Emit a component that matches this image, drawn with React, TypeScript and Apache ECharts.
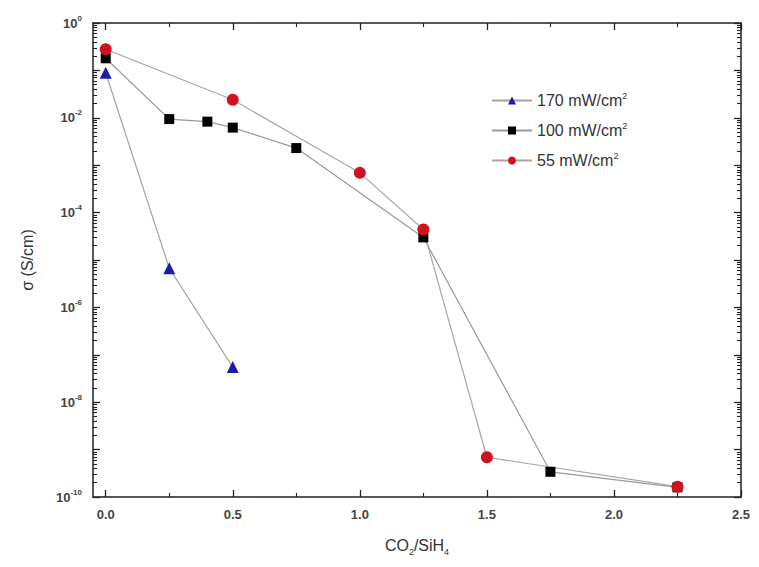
import React, { useEffect, useRef } from "react";
import * as echarts from "echarts";

const seriesNames = ["170 mW/cm2", "100 mW/cm2", "55 mW/cm2"];
const legendLabels = ["170 mW/cm{s|2}", "100 mW/cm{s|2}", "55 mW/cm{s|2}"];

const x170 = [0, 0.25, 0.5];
const y170 = [0.089, 6.7e-6, 5.5e-8];

const x100 = [0, 0.25, 0.4, 0.5, 0.75, 1.25, 1.75, 2.25];
const y100 = [0.18, 9.4e-3, 8.3e-3, 6.2e-3, 2.3e-3, 3.0e-5, 3.4e-10, 1.6e-10];

const x55 = [0, 0.5, 1.0, 1.25, 1.5, 2.25];
const y55 = [0.28, 0.024, 6.9e-4, 4.4e-5, 6.9e-10, 1.65e-10];

const xMajor = [0, 0.5, 1.0, 1.5, 2.0, 2.5];
const xMinor = [0.25, 0.75, 1.25, 1.75, 2.25];
const yLabelExps = [0, -2, -4, -6, -8, -10];
const yMajorExps = [0, -1, -2, -3, -4, -5, -6, -7, -8, -9, -10];

const yMajor = yMajorExps.map((e) => Math.pow(10, e));
const yLabels = yLabelExps.map((e) => Math.pow(10, e));
const yMinor: number[] = [];
for (let e = -10; e < 0; e++) {
  for (let k = 2; k <= 9; k++) yMinor.push(k * Math.pow(10, e));
}

const pair = (xs: number[], ys: number[]) => xs.map((x, i) => [x, ys[i]]);

export default function App() {
  const ref = useRef<HTMLDivElement>(null);
  useEffect(() => {
    document.body.style.margin = "0";
    const chart = echarts.init(ref.current!, null, { renderer: "svg" });
    const font = "Liberation Sans, Arial, sans-serif";
    const axisColor = "#222";
    const gridBox = { left: 93, right: 18, top: 23, bottom: 70, containLabel: false };
    const xBase = (pos: "bottom" | "top", grid: number) => ({
      type: "value" as const,
      gridIndex: grid,
      position: pos,
      min: -0.05,
      max: 2.5,
      splitLine: { show: false },
    });
    const yBase = (pos: "left" | "right", grid: number) => ({
      type: "log" as const,
      gridIndex: grid,
      logBase: 10,
      position: pos,
      min: 1e-10,
      max: 1,
      splitLine: { show: false },
      minorTick: { show: false },
    });
    const majorTick = (vals: number[]) => ({
      show: true,
      inside: true,
      length: 7,
      customValues: vals,
      lineStyle: { color: axisColor, width: 1.3 },
    });
    const minorTickStyle = (vals: number[]) => ({
      show: true,
      inside: true,
      length: 4,
      customValues: vals,
      lineStyle: { color: axisColor, width: 1.1 },
    });
    const frameLine = { show: true, onZero: false, lineStyle: { color: axisColor, width: 1.5 } };
    const noLine = { show: false, onZero: false };
    const option: any = {
      animation: false,
      backgroundColor: "#ffffff",
      grid: [gridBox, { ...gridBox }],
      legend: {
        orient: "vertical",
        left: 486,
        top: 86,
        itemWidth: 40,
        itemHeight: 10,
        itemGap: 11,
        data: seriesNames,
        formatter: (name: string) => legendLabels[seriesNames.indexOf(name)],
        textStyle: {
          fontFamily: font,
          fontSize: 16,
          color: "#333",
          lineHeight: 19,
          rich: { s: { fontSize: 9, verticalAlign: "top", color: "#333", fontFamily: font } },
        },
      },
      xAxis: [
        {
          ...xBase("bottom", 0),
          name: "CO{sub|2}/SiH{sub|4}",
          nameLocation: "middle",
          nameGap: 37,
          nameTextStyle: {
            fontFamily: font,
            fontSize: 16,
            color: "#333",
            lineHeight: 22,
            rich: { sub: { fontSize: 9, verticalAlign: "bottom", color: "#333", fontFamily: font } },
          },
          axisLine: frameLine,
          axisTick: majorTick(xMajor),
          axisLabel: {
            customValues: xMajor,
            formatter: (v: number) => v.toFixed(1),
            fontFamily: font,
            fontSize: 13,
            fontWeight: "bold",
            color: "#444",
            margin: 11,
          },
        },
        {
          ...xBase("top", 0),
          axisLine: frameLine,
          axisTick: majorTick(xMajor),
          axisLabel: { show: false },
        },
        {
          ...xBase("bottom", 1),
          axisLine: noLine,
          axisTick: minorTickStyle(xMinor),
          axisLabel: { show: false },
        },
        {
          ...xBase("top", 1),
          axisLine: noLine,
          axisTick: minorTickStyle(xMinor),
          axisLabel: { show: false },
        },
      ],
      yAxis: [
        {
          ...yBase("left", 0),
          name: "σ (S/cm)",
          nameLocation: "middle",
          nameGap: 58,
          nameRotate: 90,
          nameTextStyle: { fontFamily: font, fontSize: 16, color: "#333" },
          axisLine: frameLine,
          axisTick: majorTick(yMajor),
          axisLabel: {
            customValues: yLabels,
            formatter: (v: number) => "{b|10}{s|" + Math.round(Math.log10(v)) + "}",
            margin: 11,
            rich: {
              b: { fontFamily: font, fontSize: 13, fontWeight: "bold", color: "#444", lineHeight: 18 },
              s: { fontFamily: font, fontSize: 8, fontWeight: "bold", color: "#444", verticalAlign: "top" },
            },
          },
        },
        {
          ...yBase("right", 0),
          axisLine: frameLine,
          axisTick: majorTick(yMajor),
          axisLabel: { show: false },
        },
        {
          ...yBase("left", 1),
          axisLine: noLine,
          axisTick: minorTickStyle(yMinor),
          axisLabel: { show: false },
        },
        {
          ...yBase("right", 1),
          axisLine: noLine,
          axisTick: minorTickStyle(yMinor),
          axisLabel: { show: false },
        },
      ],
      series: [
        {
          name: seriesNames[1],
          type: "line",
          xAxisIndex: 0,
          yAxisIndex: 0,
          data: pair(x100, y100),
          symbol: "rect",
          symbolSize: 10,
          itemStyle: { color: "#000000" },
          lineStyle: { color: "#999999", width: 1.2 },
        },
        {
          name: seriesNames[0],
          type: "line",
          xAxisIndex: 0,
          yAxisIndex: 0,
          data: pair(x170, y170),
          symbol: "triangle",
          symbolSize: 12,
          itemStyle: { color: "#1c1ca6" },
          lineStyle: { color: "#a3a3a3", width: 1.2 },
        },
        {
          name: seriesNames[2],
          type: "line",
          xAxisIndex: 0,
          yAxisIndex: 0,
          data: pair(x55, y55),
          symbol: "circle",
          symbolSize: 12,
          itemStyle: { color: "#d0121f" },
          lineStyle: { color: "#b0a3a3", width: 1.2 },
        },
      ],
    };
    chart.setOption(option);
    return () => chart.dispose();
  }, []);
  return (
    <div
      ref={ref}
      style={{ position: "fixed", left: 0, top: 0, width: 759, height: 567, background: "#fff" }}
    />
  );
}
